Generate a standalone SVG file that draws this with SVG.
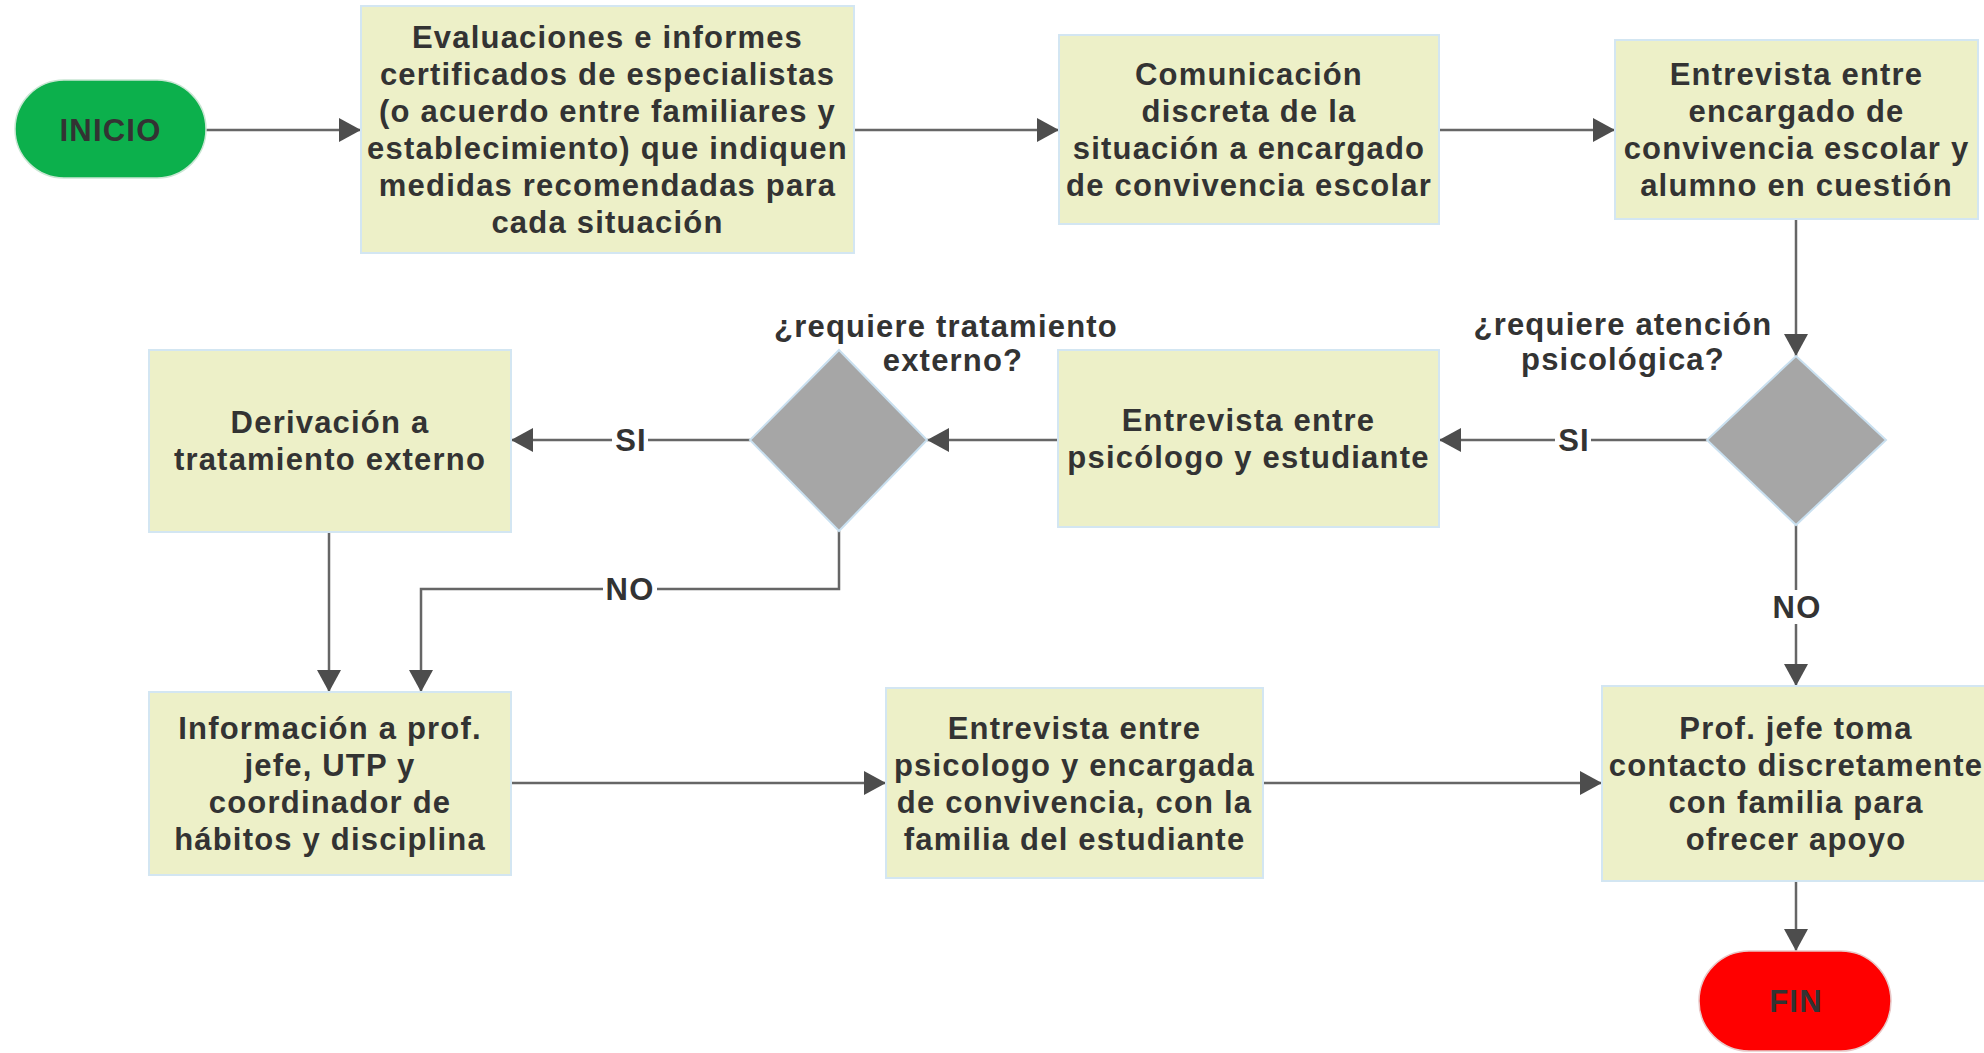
<svg xmlns="http://www.w3.org/2000/svg" width="1984" height="1053" viewBox="0 0 1984 1053">
<defs>
<marker id="arr" viewBox="0 0 22 24" refX="22" refY="12" markerWidth="22" markerHeight="24" markerUnits="userSpaceOnUse" orient="auto">
<path d="M0,0 L22,12 L0,24 Z" fill="#4d4d4d"/>
</marker>
<style>
.box{fill:#edf0c8;stroke:#d3e6f2;stroke-width:2}
.dia{fill:#a6a6a6;stroke:#c9e0f0;stroke-width:2}
.t{font-family:"Liberation Sans",Arial,sans-serif;font-weight:bold;font-size:31px;letter-spacing:1.2px;fill:#333333;text-anchor:middle}
.c{fill:none;stroke:#666666;stroke-width:2.5}
.lb{fill:#ffffff}
</style>
</defs>
<rect width="1984" height="1053" fill="#ffffff"/>

<g id="connectors">
<path class="c" d="M206,130 H361" marker-end="url(#arr)"/>
<path class="c" d="M854,130 H1059" marker-end="url(#arr)"/>
<path class="c" d="M1439,130 H1615" marker-end="url(#arr)"/>
<path class="c" d="M1796,219 V356" marker-end="url(#arr)"/>
<path class="c" d="M1707,440 H1439" marker-end="url(#arr)"/>
<path class="c" d="M1058,440 H927" marker-end="url(#arr)"/>
<path class="c" d="M750,440 H511" marker-end="url(#arr)"/>
<path class="c" d="M839,531 V589 H421 V692" marker-end="url(#arr)"/>
<path class="c" d="M329,532 V692" marker-end="url(#arr)"/>
<path class="c" d="M511,783 H886" marker-end="url(#arr)"/>
<path class="c" d="M1263,783 H1602" marker-end="url(#arr)"/>
<path class="c" d="M1796,525 V686" marker-end="url(#arr)"/>
<path class="c" d="M1796,881 V951" marker-end="url(#arr)"/>
<rect class="lb" x="612" y="424" width="36" height="32"/>
<text class="t" x="631" y="451">SI</text>
<rect class="lb" x="1555" y="424" width="36" height="32"/>
<text class="t" x="1574" y="451">SI</text>
<rect class="lb" x="603" y="573" width="54" height="32"/>
<text class="t" x="630" y="600">NO</text>
<rect class="lb" x="1770" y="590" width="54" height="34"/>
<text class="t" x="1797" y="618">NO</text>
</g>

<g id="inicio">
<rect x="15" y="80" width="191" height="98" rx="49" ry="49" fill="#0cb04c" stroke="#c9e6d3" stroke-width="1.5"/>
<text class="t" x="110.5" y="141">INICIO</text>
</g>

<g id="evaluaciones">
<rect class="box" x="361" y="6" width="493" height="247"/>
<text class="t" x="607.5" y="48">Evaluaciones e informes</text>
<text class="t" x="607.5" y="85">certificados de especialistas</text>
<text class="t" x="607.5" y="122">(o acuerdo entre familiares y</text>
<text class="t" x="607.5" y="159">establecimiento) que indiquen</text>
<text class="t" x="607.5" y="196">medidas recomendadas para</text>
<text class="t" x="607.5" y="233">cada situación</text>
</g>

<g id="comunicacion">
<rect class="box" x="1059" y="35" width="380" height="189"/>
<text class="t" x="1249" y="85">Comunicación</text>
<text class="t" x="1249" y="122">discreta de la</text>
<text class="t" x="1249" y="159">situación a encargado</text>
<text class="t" x="1249" y="196">de convivencia escolar</text>
</g>

<g id="entrevista-alumno">
<rect class="box" x="1615" y="40" width="363" height="179"/>
<text class="t" x="1796.5" y="85">Entrevista entre</text>
<text class="t" x="1796.5" y="122">encargado de</text>
<text class="t" x="1796.5" y="159">convivencia escolar y</text>
<text class="t" x="1796.5" y="196">alumno en cuestión</text>
</g>

<g id="decision-psicologica">
<polygon class="dia" points="1796,356 1886,440 1796,525 1707,440"/>
<text class="t" x="1623" y="335">¿requiere atención</text>
<text class="t" x="1623" y="370">psicológica?</text>
</g>

<g id="entrevista-psicologo">
<rect class="box" x="1058" y="350" width="381" height="177"/>
<text class="t" x="1248.5" y="431">Entrevista entre</text>
<text class="t" x="1248.5" y="468">psicólogo y estudiante</text>
</g>

<g id="decision-tratamiento">
<polygon class="dia" points="839,350 927,440 839,531 750,440"/>
<text class="t" x="946" y="337">¿requiere tratamiento</text>
<text class="t" x="953" y="371">externo?</text>
</g>

<g id="derivacion">
<rect class="box" x="149" y="350" width="362" height="182"/>
<text class="t" x="330" y="433">Derivación a</text>
<text class="t" x="330" y="470">tratamiento externo</text>
</g>

<g id="informacion">
<rect class="box" x="149" y="692" width="362" height="183"/>
<text class="t" x="330" y="739">Información a prof.</text>
<text class="t" x="330" y="776">jefe, UTP y</text>
<text class="t" x="330" y="813">coordinador de</text>
<text class="t" x="330" y="850">hábitos y disciplina</text>
</g>

<g id="entrevista-familia">
<rect class="box" x="886" y="688" width="377" height="190"/>
<text class="t" x="1074.5" y="739">Entrevista entre</text>
<text class="t" x="1074.5" y="776">psicologo y encargada</text>
<text class="t" x="1074.5" y="813">de convivencia, con la</text>
<text class="t" x="1074.5" y="850">familia del estudiante</text>
</g>

<g id="prof-jefe">
<rect class="box" x="1602" y="686" width="390" height="195"/>
<text class="t" x="1796" y="739">Prof. jefe toma</text>
<text class="t" x="1796" y="776">contacto discretamente</text>
<text class="t" x="1796" y="813">con familia para</text>
<text class="t" x="1796" y="850">ofrecer apoyo</text>
</g>

<g id="fin">
<rect x="1699" y="951" width="192" height="100" rx="50" ry="50" fill="#ff0000" stroke="#e8c8c8" stroke-width="1.5"/>
<text class="t" x="1796" y="1012">FIN</text>
</g>
</svg>
